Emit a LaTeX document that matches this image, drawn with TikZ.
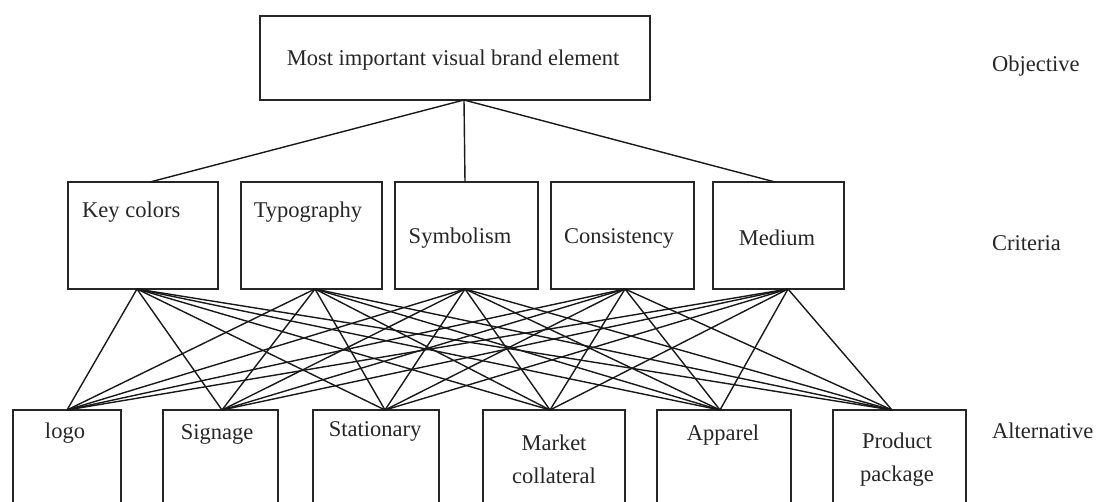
\documentclass[tikz,border=0pt]{standalone}
\usepackage{fontspec}
\setmainfont{Liberation Serif}
\begin{document}
\begin{tikzpicture}[x=1pt,y=-1pt,
  box/.style={draw=black!85,line width=1.4pt},
  lbl/.style={inner sep=0pt,font=\fontsize{22.5}{33}\selectfont,text=black!85,align=center},
  link/.style={draw=black!90,line width=1.4pt}]
\useasboundingbox (0,0) rectangle (1096,502);
% objective
\draw[box] (260,16) rectangle (650,100);
\node[lbl] (obj) at (453,60) {Most important visual brand element};
\coordinate (objb) at (464,100);
% criteria boxes
\draw[box] (68,182) rectangle (218,289);
\draw[box] (241,182) rectangle (382,289);
\draw[box] (395,182) rectangle (538,289);
\draw[box] (551,182) rectangle (694,289);
\draw[box] (713,182) rectangle (844,289);
\node[lbl,anchor=west] (kc) at (82,212) {Key colors};
\node[lbl] (ty) at (308,212) {Typography};
\node[lbl] (sy) at (460,238) {Symbolism};
\node[lbl] (co) at (619,238) {Consistency};
\node[lbl] (me) at (777,238) {Medium};
\coordinate (kct) at (150,182);
\coordinate (syt) at (465,182);
\coordinate (met) at (775,182);
\coordinate (c1) at (137,289);
\coordinate (c2) at (315,289);
\coordinate (c3) at (465,289);
\coordinate (c4) at (625,289);
\coordinate (c5) at (788,289);
% alternatives
\draw[box] (13,520) -- (13,410) -- (121,410) -- (121,520);
\draw[box] (163,520) -- (163,410) -- (278,410) -- (278,520);
\draw[box] (313,520) -- (313,410) -- (439,410) -- (439,520);
\draw[box] (483,520) -- (483,410) -- (625,410) -- (625,520);
\draw[box] (657,520) -- (657,410) -- (791,410) -- (791,520);
\draw[box] (833,520) -- (833,410) -- (966,410) -- (966,520);
\node[lbl] (lo) at (65,433) {logo};
\node[lbl] (si) at (217,434) {Signage};
\node[lbl] (st) at (375,431) {Stationary};
\node[lbl] (mk) at (554,459.5) {Market\\collateral};
\node[lbl] (ap) at (723,435) {Apparel};
\node[lbl] (pp) at (897,459.5) {Product\\package};
\coordinate (a1) at (67,410);
\coordinate (a2) at (222,410);
\coordinate (a3) at (385,410);
\coordinate (a4) at (550,410);
\coordinate (a5) at (720,410);
\coordinate (a6) at (892,410);
% level labels
\node[lbl,anchor=west] (lobj) at (992,66) {Objective};
\node[lbl,anchor=west] (lcri) at (992,243) {Criteria};
\node[lbl,anchor=west] (lalt) at (992,431) {Alternative};
% connectors
\draw[link] (objb) -- (kct);
\draw[link] (objb) -- (syt);
\draw[link] (objb) -- (met);
\foreach \c in {c1,c2,c3,c4,c5}
  \foreach \a in {a1,a2,a3,a4,a5,a6}
    \draw[link] (\c) -- (\a);
\end{tikzpicture}
\end{document}
